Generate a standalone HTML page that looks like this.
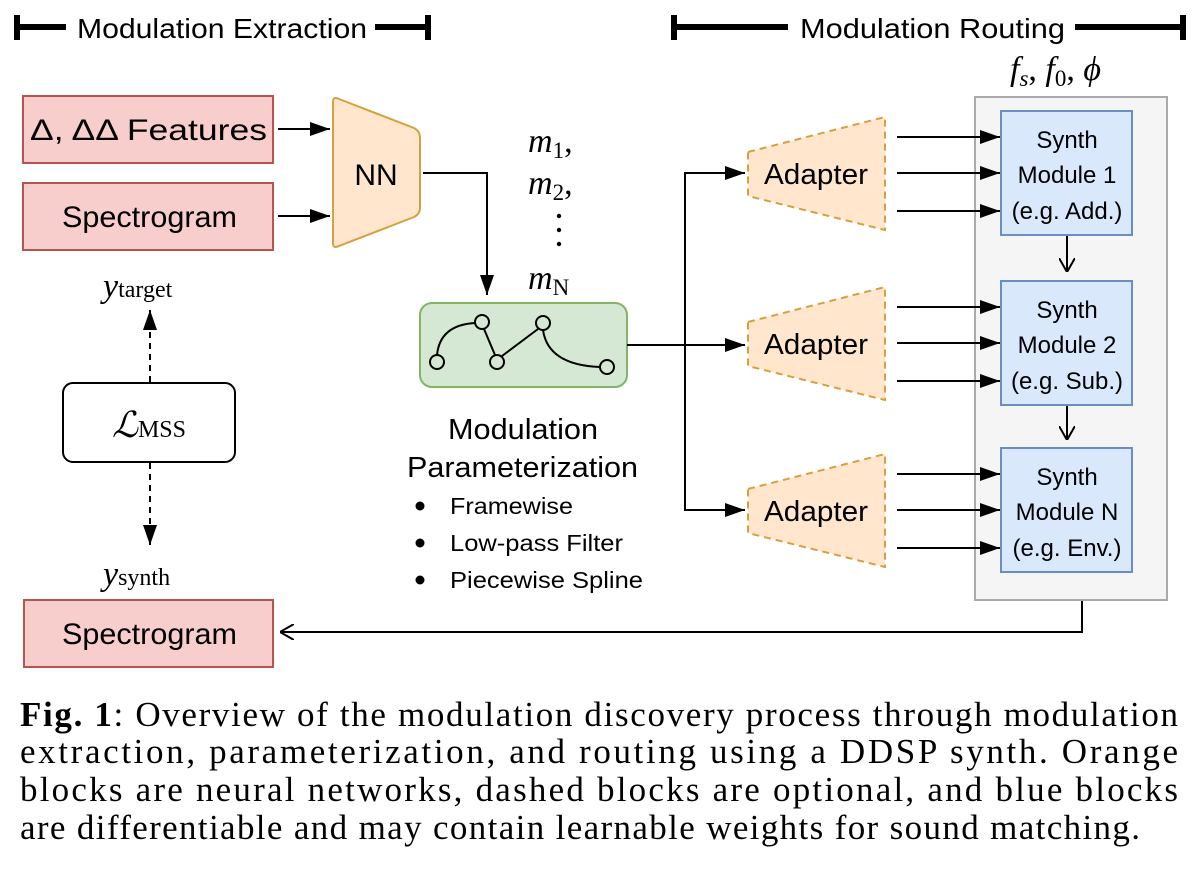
<!DOCTYPE html>
<html><head><meta charset="utf-8"><style>html,body{margin:0;padding:0;background:#fff}svg{display:block}</style></head>
<body>
<svg width="1200" height="877" viewBox="0 0 1200 877" xmlns="http://www.w3.org/2000/svg" font-family="Liberation Sans, sans-serif">
<defs>
<marker id="a" viewBox="0 0 10 10" markerWidth="20" markerHeight="14" refX="10" refY="5" orient="auto" markerUnits="userSpaceOnUse" preserveAspectRatio="none"><path d="M0,0 L10,5 L0,10 z" fill="#000"/></marker>
<marker id="o" viewBox="0 0 10 10" markerWidth="14" markerHeight="16" refX="10" refY="5" orient="auto" markerUnits="userSpaceOnUse" preserveAspectRatio="none"><path d="M0,0 L10,5 L0,10" fill="none" stroke="#000" stroke-width="1.3"/></marker>
</defs>
<g fill="#000">
<rect x="14" y="15" width="6" height="25"/><rect x="14" y="24" width="52" height="6"/>
<rect x="375" y="24" width="53" height="6"/><rect x="425" y="15" width="6" height="25"/>
<rect x="671" y="15" width="6" height="25"/><rect x="671" y="24" width="117" height="6"/>
<rect x="1075" y="24" width="110" height="6"/><rect x="1180" y="15" width="6" height="25"/>
</g>
<text x="77" y="38" font-size="28" textLength="290" lengthAdjust="spacingAndGlyphs">Modulation Extraction</text>
<text x="800" y="38" font-size="28" textLength="265" lengthAdjust="spacingAndGlyphs">Modulation Routing</text>
<rect x="23" y="96" width="250" height="67" fill="#f8cecc" stroke="#b85450" stroke-width="2"/>
<text x="30" y="140" font-size="30" textLength="237" lengthAdjust="spacingAndGlyphs">Δ, ΔΔ Features</text>
<rect x="23" y="183" width="250" height="67" fill="#f8cecc" stroke="#b85450" stroke-width="2"/>
<text x="62" y="227" font-size="30" textLength="175" lengthAdjust="spacingAndGlyphs">Spectrogram</text>
<line x1="278" y1="129" x2="330" y2="129" stroke="#000" stroke-width="2" marker-end="url(#a)"/>
<line x1="278" y1="216" x2="330" y2="216" stroke="#000" stroke-width="2" marker-end="url(#a)"/>
<path d="M333,102 Q333,96 339,99 L414,128 Q420,131 420,138 L420,208 Q420,214 414,217 L339,246 Q333,249 333,243 Z" fill="#ffe6cc" stroke="#d6a040" stroke-width="2"/>
<text x="376" y="185" font-size="30" text-anchor="middle">NN</text>
<polyline points="423,173 487,173 487,295" fill="none" stroke="#000" stroke-width="2" marker-end="url(#a)"/>
<g font-family="Liberation Serif, serif" font-size="34">
<text x="528" y="152" font-style="italic">m<tspan font-style="normal" font-size="23" dy="6">1</tspan><tspan dy="-6" font-style="normal">,</tspan></text>
<text x="528" y="194" font-style="italic">m<tspan font-style="normal" font-size="23" dy="6">2</tspan><tspan dy="-6" font-style="normal">,</tspan></text>
<text x="528" y="289" font-style="italic">m<tspan font-style="normal" font-size="23" dy="6">N</tspan></text>
</g>
<circle cx="559" cy="216" r="2.2"/><circle cx="559" cy="230" r="2.2"/><circle cx="559" cy="244" r="2.2"/>
<rect x="420" y="303" width="207" height="84" rx="12" fill="#d5e8d4" stroke="#82b366" stroke-width="2"/>
<g fill="none" stroke="#000" stroke-width="2">
<path d="M437,355 Q440,325 475,323"/><line x1="484" y1="329" x2="495" y2="355"/><line x1="502" y1="356" x2="538" y2="329"/>
<path d="M543,330 Q548,365 600,367"/>
<circle cx="437" cy="362" r="7" fill="#d5e8d4"/><circle cx="482" cy="322" r="7" fill="#d5e8d4"/><circle cx="497" cy="362" r="7" fill="#d5e8d4"/><circle cx="543" cy="323" r="7" fill="#d5e8d4"/><circle cx="607" cy="367" r="7" fill="#d5e8d4"/>
</g>
<text x="448" y="439" font-size="29" textLength="150" lengthAdjust="spacingAndGlyphs">Modulation</text>
<text x="407" y="477" font-size="29" textLength="231" lengthAdjust="spacingAndGlyphs">Parameterization</text>
<g font-size="23"><circle cx="420" cy="506" r="4.5"/><text x="450" y="514" textLength="123" lengthAdjust="spacingAndGlyphs">Framewise</text>
<circle cx="420" cy="543" r="4.5"/><text x="450" y="551" textLength="173" lengthAdjust="spacingAndGlyphs">Low-pass Filter</text>
<circle cx="420" cy="580" r="4.5"/><text x="450" y="588" textLength="193" lengthAdjust="spacingAndGlyphs">Piecewise Spline</text></g>
<rect x="63" y="383" width="172" height="79" rx="10" fill="#fff" stroke="#000" stroke-width="2"/>
<text x="149" y="437" font-family="Liberation Serif, serif" font-size="36" text-anchor="middle"><tspan font-style="italic">ℒ</tspan><tspan font-size="24">MSS</tspan></text>
<line x1="150" y1="382" x2="150" y2="310" stroke="#000" stroke-width="2" stroke-dasharray="6,5" marker-end="url(#a)"/>
<line x1="150" y1="463" x2="150" y2="545" stroke="#000" stroke-width="2" stroke-dasharray="6,5" marker-end="url(#a)"/>
<text x="103" y="297" font-family="Liberation Serif, serif" font-size="34"><tspan font-style="italic">y</tspan><tspan font-size="24">target</tspan></text>
<text x="103" y="585" font-family="Liberation Serif, serif" font-size="34"><tspan font-style="italic">y</tspan><tspan font-size="24">synth</tspan></text>
<rect x="24" y="600" width="249" height="67" fill="#f8cecc" stroke="#b85450" stroke-width="2"/>
<text x="62" y="644" font-size="30" textLength="175" lengthAdjust="spacingAndGlyphs">Spectrogram</text>
<polyline points="1082,588 1082,632 280,632" fill="none" stroke="#000" stroke-width="2" marker-end="url(#o)"/>
<line x1="627" y1="345" x2="745" y2="345" stroke="#000" stroke-width="2" marker-end="url(#a)"/>
<polyline points="745,173 685,173 685,510 745,510" fill="none" stroke="#000" stroke-width="2"/>
<line x1="700" y1="173" x2="745" y2="173" stroke="#000" stroke-width="2" marker-end="url(#a)"/>
<line x1="700" y1="510" x2="745" y2="510" stroke="#000" stroke-width="2" marker-end="url(#a)"/>
<rect x="975" y="97" width="192" height="503" fill="#f5f5f5" stroke="#aaa" stroke-width="2"/>
<text x="1010" y="80" font-family="Liberation Serif, serif" font-size="34" font-style="italic">f<tspan font-size="23" dy="6">s</tspan><tspan dy="-6" font-style="normal">, </tspan>f<tspan font-style="normal" font-size="23" dy="6">0</tspan><tspan dy="-6" font-style="normal">, </tspan>ϕ</text>
<g id="row">
<path d="M748,152 L885,117 L885,230 L748,196 Z" fill="#ffe6cc" stroke="#d6a040" stroke-width="2" stroke-dasharray="7,5"/>
<text x="764" y="184" font-size="29" textLength="104" lengthAdjust="spacingAndGlyphs">Adapter</text>
<line x1="897" y1="137" x2="1000" y2="137" stroke="#000" stroke-width="2" marker-end="url(#a)"/>
<line x1="897" y1="173" x2="1000" y2="173" stroke="#000" stroke-width="2" marker-end="url(#a)"/>
<line x1="897" y1="211" x2="1000" y2="211" stroke="#000" stroke-width="2" marker-end="url(#a)"/>
<rect x="1001" y="111" width="131" height="124" fill="#dae8fc" stroke="#6c8ebf" stroke-width="2"/>
</g>
<use href="#row" y="170"/>
<use href="#row" y="337"/>
<g font-size="24" text-anchor="middle">
<text x="1067" y="148">Synth</text><text x="1067" y="183">Module 1</text><text x="1067" y="219">(e.g. Add.)</text>
<text x="1067" y="318">Synth</text><text x="1067" y="353">Module 2</text><text x="1067" y="389">(e.g. Sub.)</text>
<text x="1067" y="485">Synth</text><text x="1067" y="520">Module N</text><text x="1067" y="556">(e.g. Env.)</text>
</g>
<line x1="1067" y1="236" x2="1067" y2="272" stroke="#000" stroke-width="2" marker-end="url(#o)"/>
<line x1="1067" y1="406" x2="1067" y2="440" stroke="#000" stroke-width="2" marker-end="url(#o)"/>
<g font-family="Liberation Serif, serif" font-size="35">
<text x="20" y="726" textLength="1158" lengthAdjust="spacing"><tspan font-weight="bold">Fig. 1</tspan>: Overview of the modulation discovery process through modulation</text>
<text x="20" y="763" textLength="1158" lengthAdjust="spacing">extraction, parameterization, and routing using a DDSP synth. Orange</text>
<text x="20" y="801" textLength="1158" lengthAdjust="spacing">blocks are neural networks, dashed blocks are optional, and blue blocks</text>
<text x="20" y="839" textLength="1120" lengthAdjust="spacing">are differentiable and may contain learnable weights for sound matching.</text>
</g>
</svg>
</body></html>
